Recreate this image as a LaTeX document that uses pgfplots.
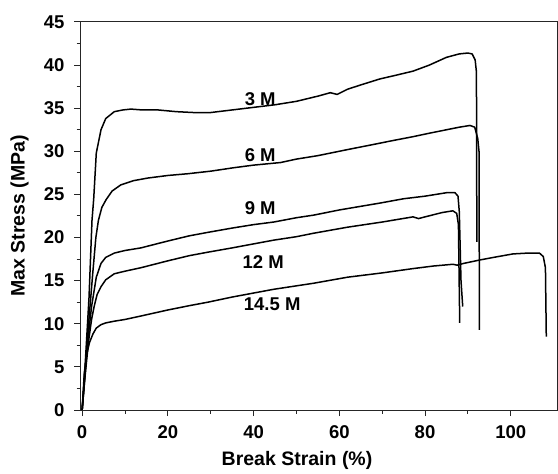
\documentclass[border=0pt]{standalone}
\usepackage{pgfplots}
\pgfplotsset{compat=1.18}
\usepackage{fontspec}
\setmainfont{Liberation Sans}

\begin{document}
\begin{tikzpicture}
\begin{axis}[
    name=ax,
    scale only axis,
    width=477pt, height=388pt,
    xmin=-0.5, xmax=110.8,
    ymin=0, ymax=45,
    xtick={0,20,40,60,80,100},
    ytick={0,5,10,15,20,25,30,35,40,45},
    minor x tick num=1,
    minor y tick num=1,
    xtick pos=bottom,
    ytick pos=left,
    tick align=outside,
    major tick length=6pt,
    minor tick length=3.5pt,
    axis line style={draw=black!85, line width=1pt},
    major tick style={draw=black!85, line width=1pt},
    minor tick style={draw=black!85, line width=1pt},
    /pgf/number format/assume math mode=true,
    ticklabel style={font=\bfseries\fontsize{18.5}{20}\selectfont},
    yticklabel style={xshift=-6pt},
    xticklabel style={yshift=-6pt},
    xlabel={Break Strain (\%)},
    ylabel={Max Stress (MPa)},
    xlabel style={font=\bfseries\fontsize{19.5}{21}\selectfont, at={(axis description cs:0.455,0)}, anchor=north, yshift=-38pt},
    ylabel style={font=\bfseries\fontsize{19.5}{21}\selectfont, at={(axis description cs:-0.1,0.5)}, anchor=south},
    curve/.style={black, line width=1.5pt, line join=round, mark=none},
    clip=false,
  ]
  % 3 M
  \addplot[curve] coordinates {(0,0) (0.5,3.5) (1.6,13) (2.3,22) (2.7,24.5) (3.3,29.8) (4.4,32.5) (5.5,33.8) (7.5,34.6) (9.5,34.8) (11.4,34.9) (14,34.8) (17.7,34.8) (22,34.6) (26,34.5) (30,34.5) (35,34.8) (40,35.1) (45,35.4) (50,35.8) (55,36.4) (57.9,36.8) (58.7,36.7) (59.5,36.6) (61.9,37.2) (65,37.7) (69.5,38.4) (73,38.8) (77.2,39.3) (81,40.0) (85,40.9) (88,41.3) (90,41.4) (91,41.3) (91.7,40.6) (92.0,39.2) (92.1,19.5)};
  % 6 M
  \addplot[curve] coordinates {(0,0) (0.6,4) (1.5,10) (2.5,16) (3.2,20) (3.8,22) (4.6,23.5) (5.6,24.4) (7,25.4) (9,26.1) (12,26.6) (15.3,26.9) (20,27.2) (24.6,27.4) (30,27.7) (35.4,28.1) (40,28.4) (46.3,28.7) (50,29.1) (55,29.5) (61.9,30.2) (68,30.8) (72,31.2) (77.2,31.7) (81,32.1) (85,32.5) (88,32.8) (90.5,33.0) (91.6,32.8) (92.3,31.5) (92.6,30) (92.7,9.3)};
  % 9 M
  \addplot[curve] coordinates {(0,0) (0.5,3) (1.3,8) (2.2,12) (3.3,15.4) (4.4,17.0) (5.5,17.7) (7.5,18.2) (10,18.5) (13.7,18.8) (20,19.6) (25,20.2) (29.3,20.6) (35,21.1) (40,21.5) (44.7,21.8) (50,22.3) (54,22.6) (60,23.2) (69.5,24.0) (75,24.5) (80,24.8) (85,25.2) (87,25.2) (87.7,24.8) (88.0,23) (88.4,15) (88.8,12)};
  % 12 M
  \addplot[curve] coordinates {(0,0) (0.6,3.5) (1.5,8) (2.2,10.5) (2.8,12) (3.5,13.4) (4.4,14.3) (5.5,15.1) (7.5,15.8) (10,16.1) (13.7,16.5) (20,17.3) (25,17.9) (29.3,18.3) (35,18.8) (39.3,19.2) (44.7,19.7) (50,20.1) (54,20.5) (61.9,21.2) (70,21.8) (77.2,22.4) (78.5,22.2) (80,22.4) (84,22.9) (86.5,23.1) (87.4,22.8) (87.8,21.5) (88.1,10.1)};
  % 14.5 M
  \addplot[curve] coordinates {(0,0) (0.5,4.3) (1.1,6.5) (1.7,7.8) (2.5,8.8) (3.3,9.5) (4.4,9.9) (5.5,10.1) (7.5,10.3) (10,10.5) (13.7,10.9) (20,11.6) (25,12.1) (29.3,12.5) (35,13.1) (39.3,13.5) (44.7,14.0) (50,14.4) (54,14.7) (61.9,15.4) (70,15.9) (77.2,16.4) (82,16.7) (86.5,16.9) (87.5,16.8) (89,17.0) (92.8,17.4) (96,17.7) (100.5,18.1) (104,18.2) (106.7,18.2) (107.6,17.8) (108.1,16.5) (108.3,8.5)};
  \draw[black!85, line width=1pt] (rel axis cs:0,0) rectangle (rel axis cs:1,1);
  \node[anchor=west, inner sep=0pt, font=\bfseries\fontsize{18.5}{20}\selectfont] at (axis cs:37.9,36.0) {3 M};
  \node[anchor=west, inner sep=0pt, font=\bfseries\fontsize{18.5}{20}\selectfont] at (axis cs:37.9,29.6) {6 M};
  \node[anchor=west, inner sep=0pt, font=\bfseries\fontsize{18.5}{20}\selectfont] at (axis cs:37.9,23.4) {9 M};
  \node[anchor=west, inner sep=0pt, font=\bfseries\fontsize{18.5}{20}\selectfont] at (axis cs:37.4,17.2) {12 M};
  \node[anchor=west, inner sep=0pt, font=\bfseries\fontsize{18.5}{20}\selectfont] at (axis cs:37.7,12.3) {14.5 M};
\end{axis}
\pgfresetboundingbox
\path[use as bounding box] ([shift={(-80pt,-63pt)}]ax.south west) rectangle ([shift={(1pt,22pt)}]ax.north east);
\end{tikzpicture}
\end{document}
